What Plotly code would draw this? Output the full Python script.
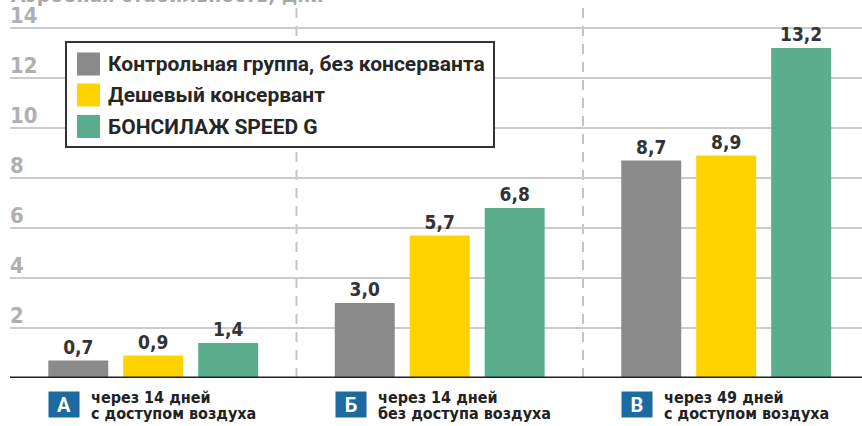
import plotly.graph_objects as go

# ---- data ----
categories = ["А", "Б", "В"]
cat_line1 = ["через 14 дней", "через 14 дней", "через 49 дней"]
cat_line2 = ["с доступом воздуха", "без доступа воздуха", "с доступом воздуха"]
series_names = ["Контрольная группа, без консерванта", "Дешевый консервант", "БОНСИЛАЖ SPEED G"]
control = [0.7, 3.0, 8.7]
cheap = [0.9, 5.7, 8.9]
bonsilage = [1.4, 6.8, 13.2]
y_ticks = [2, 4, 6, 8, 10, 12, 14]
axis_title = "Аэробная стабильность, дни"

series_values = [control, cheap, bonsilage]
colors = ["#8b8b8b", "#ffd200", "#5aae8e"]

W, H = 862, 426
L, R, T, B = 10, 0, 18, 48
PW, PH = W - L - R, H - T - B

def px(x):
    return (x - L) / PW

def py(y):
    return (H - B - y) / PH

NARROW = "Liberation Sans Narrow, DejaVu Sans Condensed, Arial Narrow, sans-serif"

fig = go.Figure()
for name, vals, col in zip(series_names, series_values, colors):
    fig.add_trace(go.Bar(
        x=categories, y=vals, name=name, marker=dict(color=col, line=dict(width=0)),
        texttemplate="%{y:.1f}", textposition="outside", cliponaxis=False,
        textfont=dict(family=NARROW, size=19, color="#333333", weight="bold"),
        showlegend=False, hoverinfo="skip",
    ))

shapes = []
annotations = []

# baseline
shapes.append(dict(type="line", xref="paper", yref="y", x0=0, x1=1, y0=0, y1=0,
                   line=dict(color="#222222", width=3), layer="above"))
# dashed separators
for sx in [0.5, 1.5]:
    shapes.append(dict(type="line", xref="x", yref="paper", x0=sx, x1=sx, y0=0, y1=1 + T / PH,
                       line=dict(color="#c4c4c4", width=2, dash="10px,8px"), layer="below"))

# y tick labels above gridlines
for t in y_ticks:
    annotations.append(dict(xref="paper", yref="y", x=0, y=t, xanchor="left", yanchor="bottom",
                            text=str(t), showarrow=False, xshift=-2, yshift=-2,
                            font=dict(family=NARROW, size=22, color="#b0b0b0", weight="bold")))

# cut-off axis title
annotations.append(dict(xref="paper", yref="paper", x=0, y=1, xanchor="left", yanchor="bottom",
                        text=axis_title, showarrow=False, yshift=9, xshift=-1,
                        font=dict(family=NARROW, size=21, color="#a8a8a8", weight="bold")))

# legend (custom)
shapes.append(dict(type="rect", xref="paper", yref="paper", x0=px(66), x1=px(494), y0=py(147), y1=py(42),
                   line=dict(color="#333333", width=2), fillcolor="white", layer="above"))
row_centers = [64, 95, 126.5]
for name, col, cy in zip(series_names, colors, row_centers):
    shapes.append(dict(type="rect", xref="paper", yref="paper", x0=px(77), x1=px(100),
                       y0=py(cy + 11.5), y1=py(cy - 11.5), line=dict(width=0), fillcolor=col, layer="above"))
    annotations.append(dict(xref="paper", yref="paper", x=px(106), y=py(cy), xanchor="left", yanchor="middle",
                            text=name, showarrow=False,
                            font=dict(family="Roboto, sans-serif", size=21, color="#262626", weight="bold")))

# category labels under axis
for c, l1, l2 in zip(categories, cat_line1, cat_line2):
    annotations.append(dict(xref="x", yref="y", x=c, y=0, xanchor="left", yanchor="middle",
                            xshift=-105, yshift=-26.5, text=c, showarrow=False,
                            width=30, height=25, borderpad=0, bgcolor="#1b6aa0", align="center",
                            font=dict(family="Roboto, sans-serif", size=20, color="white", weight="bold")))
    annotations.append(dict(xref="x", yref="y", x=c, y=0, xanchor="left", yanchor="middle",
                            xshift=-64, yshift=-19, text=l1, showarrow=False,
                            font=dict(family=NARROW, size=16, color="#222222", weight="bold")))
    annotations.append(dict(xref="x", yref="y", x=c, y=0, xanchor="left", yanchor="middle",
                            xshift=-64, yshift=-35, text=l2, showarrow=False,
                            font=dict(family=NARROW, size=16, color="#222222", weight="bold")))

fig.update_layout(
    width=W, height=H, autosize=False,
    margin=dict(l=L, r=R, t=T, b=B, pad=0),
    plot_bgcolor="white", paper_bgcolor="white",
    barmode="group", bargap=0.215, bargroupgap=0.2,
    separators=", ",
    xaxis=dict(range=[-0.5, 2.474], showticklabels=False, showgrid=False, zeroline=False, showline=False,
               ticks=""),
    yaxis=dict(range=[0, 14.4], dtick=2, tick0=0, showticklabels=False, showgrid=True,
               gridcolor="#cbcbcb", gridwidth=2, zeroline=False, showline=False, ticks=""),
    shapes=shapes, annotations=annotations,
    showlegend=False,
)

fig.write_html("out.html", config={"displayModeBar": False},
               post_script="document.body.style.margin='0';document.body.style.overflow='hidden';")
